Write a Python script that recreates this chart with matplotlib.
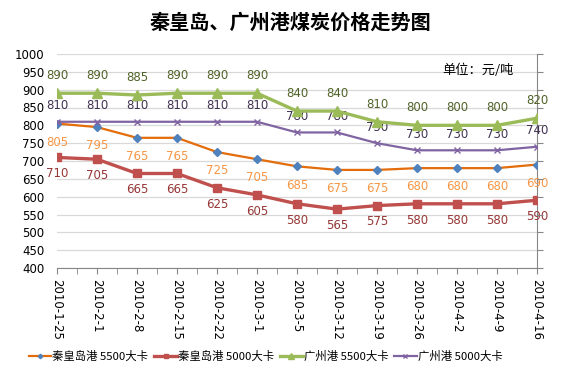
import numpy as np
import matplotlib.pyplot as plt

plt.rcParams['font.family'] = ['Noto Sans CJK SC', 'DejaVu Sans']

dates = ['2010-1-25', '2010-2-1', '2010-2-8', '2010-2-15', '2010-2-22', '2010-3-1',
         '2010-3-5', '2010-3-12', '2010-3-19', '2010-3-26', '2010-4-2', '2010-4-9', '2010-4-16']
qhd_5500 = [805, 795, 765, 765, 725, 705, 685, 675, 675, 680, 680, 680, 690]
qhd_5000 = [710, 705, 665, 665, 625, 605, 580, 565, 575, 580, 580, 580, 590]
gz_5500 = [890, 890, 885, 890, 890, 890, 840, 840, 810, 800, 800, 800, 820]
gz_5000 = [810, 810, 810, 810, 810, 810, 780, 780, 750, 730, 730, 730, 740]

fig = plt.figure(figsize=(5.8, 3.74), dpi=100)
ax = fig.add_axes([57/580, 1 - 268/374, 480/580, 214/374])
x = np.arange(len(dates))

ax.plot(x, qhd_5500, color='#E46C0A', lw=1.6, marker='D', ms=3.8,
        mfc='#4F81BD', mec='#4F81BD', label='秦皇岛港 5500大卡', zorder=4)
ax.plot(x, qhd_5000, color='#C0504D', lw=2.4, marker='s', ms=6,
        mfc='#C0504D', mec='#C0504D', label='秦皇岛港 5000大卡', zorder=4)
ax.plot(x, gz_5500, color='#9BBB59', lw=2.4, marker='^', ms=7,
        mfc='#9BBB59', mec='#9BBB59', label='广州港 5500大卡', zorder=4)
ax.plot(x, gz_5000, color='#8064A2', lw=1.6, marker='x', ms=5,
        mec='#8064A2', label='广州港 5000大卡', zorder=4)

fs = 8.5
for i in x:
    ax.annotate(str(gz_5500[i]), (i, gz_5500[i]), xytext=(0, 12.5), textcoords='offset points',
                ha='center', va='center', fontsize=fs, color='#4F6228', family='DejaVu Sans')
    ax.annotate(str(gz_5000[i]), (i, gz_5000[i]), xytext=(0, 11.5), textcoords='offset points',
                ha='center', va='center', fontsize=fs, color='#403152', family='DejaVu Sans')
    ax.annotate(str(qhd_5500[i]), (i, qhd_5500[i]), xytext=(0, -13.5), textcoords='offset points',
                ha='center', va='center', fontsize=fs, color='#F79646', family='DejaVu Sans')
    ax.annotate(str(qhd_5000[i]), (i, qhd_5000[i]), xytext=(0, -11.7), textcoords='offset points',
                ha='center', va='center', fontsize=fs, color='#953735', family='DejaVu Sans')

ax.set_xlim(0, 12)
ax.set_ylim(400, 1000)
ax.set_yticks(np.arange(400, 1001, 50))
ax.yaxis.grid(True, color='#D9D9D9', lw=0.9)
ax.set_axisbelow(True)
ax.tick_params(axis='y', length=0, labelsize=8.5, pad=9)
for lab in ax.get_yticklabels():
    lab.set_family('DejaVu Sans')

ax.set_xticks(x)
ax.set_xticks(np.arange(0.5, 12, 1), minor=True)
ax.set_xticklabels(dates, rotation=-90, fontsize=8.5, family='DejaVu Sans')
ax.tick_params(axis='x', which='both', direction='out', length=4, color='#868686', pad=4)

for s in ['top', 'left']:
    ax.spines[s].set_visible(False)
ax.spines['bottom'].set_color('#868686')
ax.spines['right'].set_color('#868686')

ax2 = ax.twinx()
ax2.set_ylim(400, 1000)
ax2.set_yticks(np.arange(400, 1001, 50))
ax2.set_yticklabels([])
ax2.tick_params(axis='y', length=4, color='#868686')
for s in ['top', 'left', 'bottom', 'right']:
    ax2.spines[s].set_visible(False)

fig.text(0.5, 1 - 22/374, '秦皇岛、广州港煤炭价格走势图', ha='center', va='center',
         fontsize=14.5, fontweight='bold', color='black')
fig.text(478/580, 1 - 70/374, '单位：元/吨', ha='center', va='center', fontsize=9.5)

fig.legend(loc='center', bbox_to_anchor=(0.458, 1 - 356/374), ncol=4, frameon=False,
           fontsize=8.2, handlelength=2.0, columnspacing=0.5, handletextpad=0.1, markerscale=0.6)

fig.savefig('out.png', dpi=100)
